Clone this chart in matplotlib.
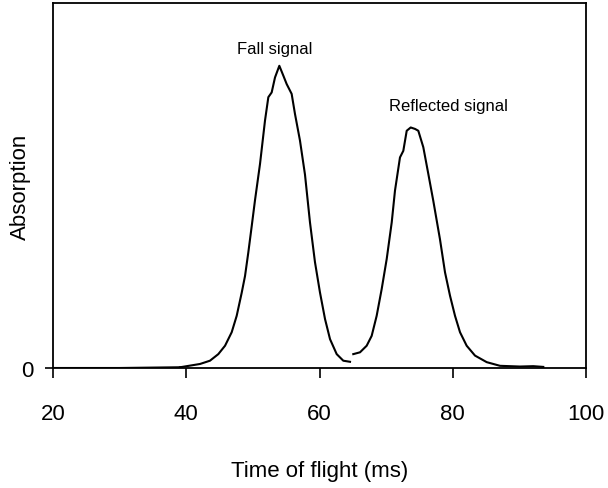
import matplotlib
matplotlib.use("Agg")
import matplotlib.pyplot as plt

plt.rcParams['font.family'] = ['Liberation Sans', 'DejaVu Sans']

# baseline before the fall signal
base_t = [20, 30, 39.06]
base_a = [0.0, 0.0, 0.002]

# fall signal
fall_t = [39.06, 42.06, 43.56, 44.81, 45.82, 46.82, 47.57, 48.32, 48.82, 49.31,
          49.82, 50.32, 51.07, 51.82, 52.32, 52.82, 53.32, 53.97, 54.57, 55.07,
          55.82, 56.32, 57.07, 57.82, 58.57, 59.32, 60.07, 60.83, 61.58, 62.58,
          63.57, 64.58]
fall_a = [0.002, 0.011, 0.020, 0.038, 0.061, 0.098, 0.143, 0.206, 0.252, 0.316,
          0.388, 0.460, 0.559, 0.678, 0.742, 0.755, 0.796, 0.828, 0.801, 0.778,
          0.751, 0.696, 0.623, 0.530, 0.399, 0.290, 0.207, 0.134, 0.079, 0.038,
          0.020, 0.017]

# reflected signal
refl_t = [65.07, 66.08, 67.08, 67.83, 68.58, 69.33, 70.09, 70.84, 71.33, 72.08,
          72.58, 73.09, 73.69, 74.34, 74.83, 75.58, 76.33, 77.08, 78.08, 78.84,
          79.59, 80.34, 81.09, 82.09, 83.34, 85.10, 87.09, 90.09, 92.09, 93.59]
refl_a = [0.038, 0.043, 0.061, 0.088, 0.143, 0.216, 0.299, 0.399, 0.486, 0.577,
          0.595, 0.650, 0.659, 0.655, 0.650, 0.605, 0.532, 0.458, 0.353, 0.262,
          0.198, 0.143, 0.098, 0.061, 0.034, 0.016, 0.006, 0.004, 0.005, 0.003]

xticks = [20, 40, 60, 80, 100]

fig = plt.figure(figsize=(6.08, 4.89), dpi=100)
ax = fig.add_axes([0.0872, 0.2454, 0.8766, 0.7464])

ax.plot(base_t, base_a, color='black', lw=1.5)
ax.plot(fall_t, fall_a, color='black', lw=1.5)
ax.plot(refl_t, refl_a, color='black', lw=1.5)

ax.text(53.3, 0.855, 'Fall signal', fontsize=12, ha='center', va='bottom')
ax.text(79.3, 0.70, 'Reflected signal', fontsize=12, ha='center', va='bottom')

ax.set_xlim(20, 100)
ax.set_ylim(0, 1.0)
ax.set_xticks(xticks)
ax.set_yticks([0])
ax.tick_params(axis='x', direction='out', length=7.5, width=1.2, pad=18, labelsize=16)
ax.tick_params(axis='y', direction='out', length=6, width=1.2, pad=8, labelsize=16)
for s in ax.spines.values():
    s.set_linewidth(1.3)

ax.set_xlabel('Time of flight (ms)', fontsize=16, labelpad=25.5)
ax.set_ylabel('Absorption', fontsize=16)
ax.yaxis.set_label_coords(-0.042, 0.5)

fig.savefig('out.png', dpi=100)
